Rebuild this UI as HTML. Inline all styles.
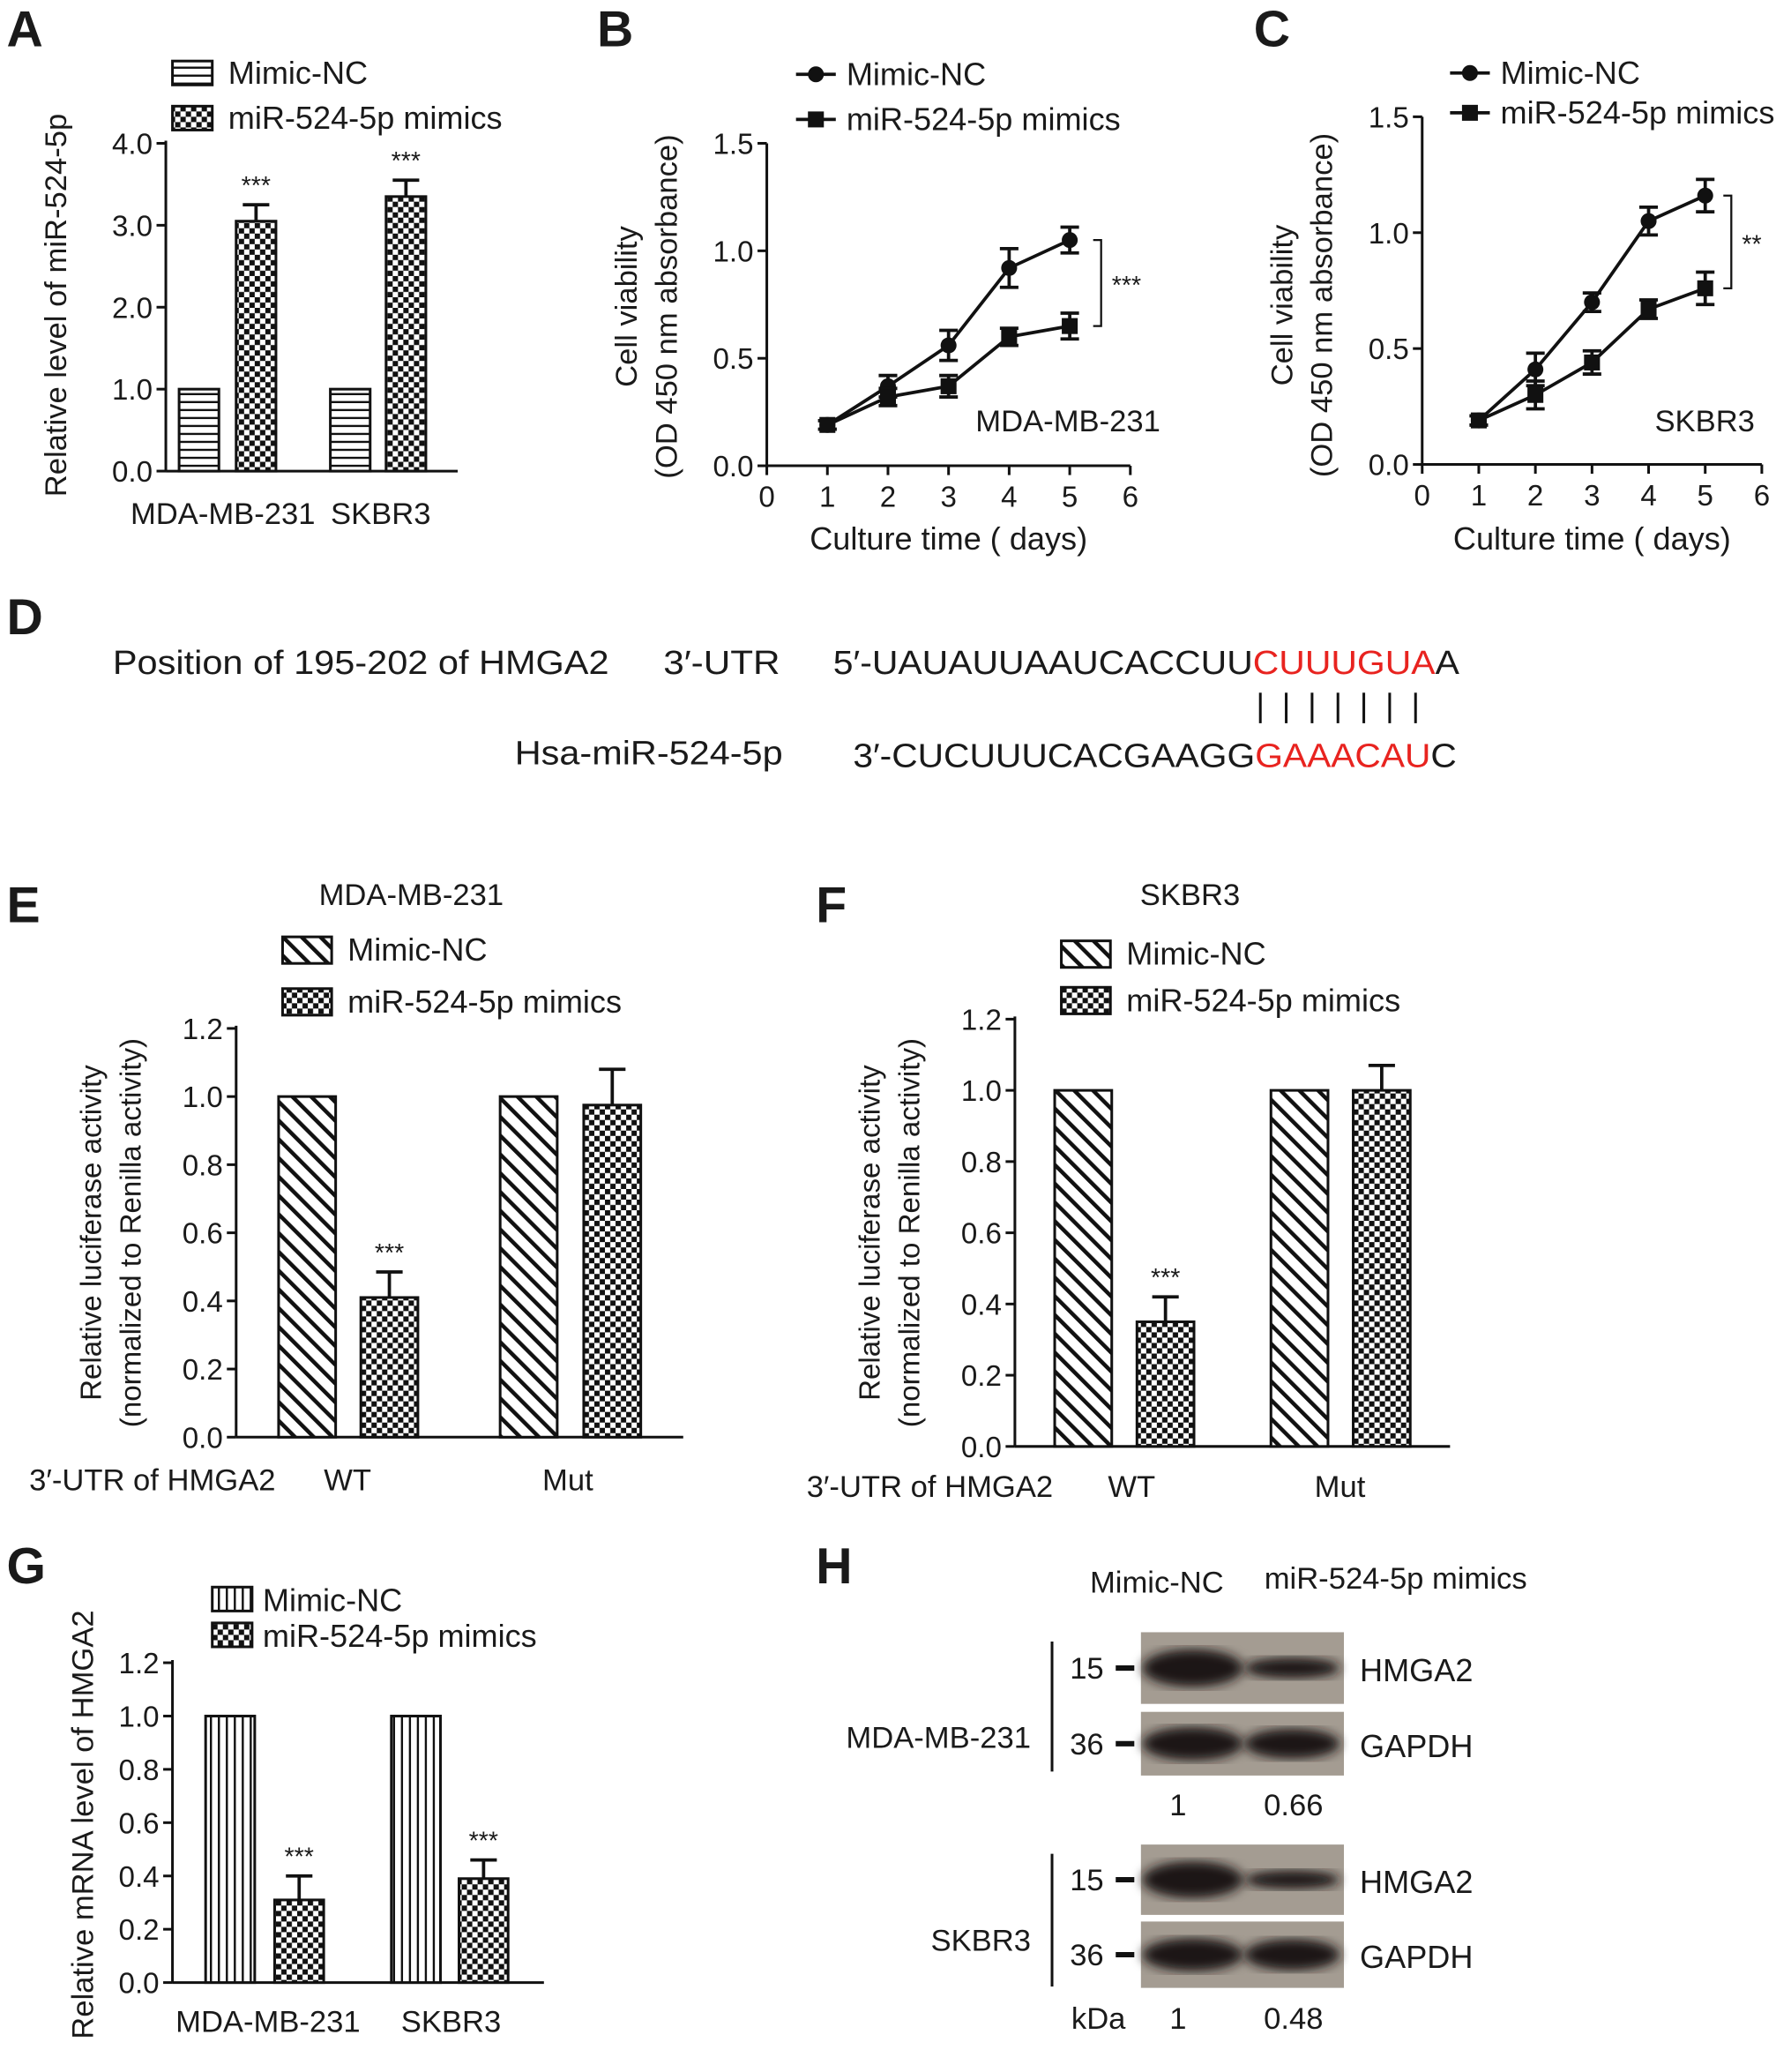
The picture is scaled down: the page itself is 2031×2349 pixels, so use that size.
<!DOCTYPE html>
<html><head><meta charset="utf-8"><style>
html,body{margin:0;padding:0;background:#fff}
svg{display:block}
text{font-family:"Liberation Sans",Arial,sans-serif;fill:#1a1a1a}
</style></head><body>
<svg id="fig" xmlns="http://www.w3.org/2000/svg" width="2031" height="2349" viewBox="0 0 1350 1561.4" preserveAspectRatio="none">
<defs>
<pattern id="pH" width="6" height="6" patternUnits="userSpaceOnUse"><rect width="6" height="6" fill="#fff"/><line x1="0" y1="3" x2="6" y2="3" stroke="#111" stroke-width="1.6"/></pattern>
<pattern id="pV" width="6" height="6" patternUnits="userSpaceOnUse"><rect width="6" height="6" fill="#fff"/><line x1="3" y1="0" x2="3" y2="6" stroke="#111" stroke-width="1.6"/></pattern>
<pattern id="pC" width="8" height="8" patternUnits="userSpaceOnUse"><rect width="8" height="8" fill="#fff"/><rect width="4" height="4" fill="#111"/><rect x="4" y="4" width="4" height="4" fill="#111"/></pattern>
<pattern id="pD" width="10" height="10" patternUnits="userSpaceOnUse" patternTransform="rotate(-45)"><rect width="10" height="10" fill="#fff"/><rect width="3" height="10" fill="#111"/></pattern>
<filter id="blur"><feGaussianBlur stdDeviation="4"/></filter>
</defs>
<g id="root"></g>
</svg>
<script>
// Panel A data
const aGroups=["MDA-MB-231","SKBR3"];
const aNC=[1.0,1.0];
const aMim=[3.05,3.35];
const aMimErr=[0.2,0.2];
const aTicks=["0.0","1.0","2.0","3.0","4.0"];
// Panel B data
const days=[1,2,3,4,5];
const bNC=[0.19,0.37,0.56,0.92,1.05];
const bNCErr=[0.02,0.05,0.07,0.09,0.06];
const bMim=[0.19,0.32,0.37,0.60,0.65];
const bMimErr=[0.02,0.04,0.05,0.04,0.06];
// Panel C data
const cNC=[0.19,0.41,0.70,1.05,1.16];
const cNCErr=[0.02,0.07,0.04,0.06,0.07];
const cMim=[0.19,0.30,0.44,0.67,0.76];
const cMimErr=[0.02,0.06,0.05,0.04,0.07];
const lineXTicks=["0","1","2","3","4","5","6"];
const lineYTicks=["0.0","0.5","1.0","1.5"];
// Panel E data
const eGroups=["WT","Mut"];
const eNC=[1.0,1.0];
const eMim=[0.41,0.975];
const eMimErr=[0.075,0.105];
// Panel F data
const fNC=[1.0,1.0];
const fMim=[0.35,1.0];
const fMimErr=[0.07,0.07];
const lucTicks=["0.0","0.2","0.4","0.6","0.8","1.0","1.2"];
// Panel G data
const gNC=[1.0,1.0];
const gMim=[0.31,0.39];
const gMimErr=[0.09,0.07];
// Panel H values
const hVals=[["1","0.66"],["1","0.48"]];

const NS="http://www.w3.org/2000/svg";
const root=document.getElementById('root');
function el(tag,attrs,parent,txt){const e=document.createElementNS(NS,tag);for(const k in attrs)e.setAttribute(k,attrs[k]);if(txt!==undefined)e.textContent=txt;(parent||root).appendChild(e);return e;}
function T(x,y,s,size,anchor,parent,extra){const a={x:x,y:y,'font-size':size||24,'text-anchor':anchor||'start'};if(extra)for(const k in extra)a[k]=extra[k];const t=el('text',a,parent,s);return t;}
function grp(name){const g=el('g',{},root);return g;}

// panel letters
[["A",5,35],["B",450,35],["C",945,35],["D",5,478],["E",5,695],["F",615,695],["G",5,1193],["H",615,1193]].forEach(p=>{
 const t=T(p[1],p[2],p[0],38,'start',root,{'font-weight':'bold'});
 
 
});

function barChart(o){
 const g=grp(o.name);
 const ys=v=>o.y0-(o.y0-o.yTop)*v/o.yMax;
 el('line',{x1:o.ax,y1:o.y0,x2:o.ax,y2:o.yTop-2,stroke:'#111','stroke-width':2},g);
 el('line',{x1:o.ax,y1:o.y0,x2:o.axEnd,y2:o.y0,stroke:'#111','stroke-width':2},g);
 o.ticks.forEach((t,i)=>{const v=parseFloat(t);const y=ys(v);
  el('line',{x1:o.ax-7,y1:y,x2:o.ax,y2:y,stroke:'#111','stroke-width':2},g);
  const tt=T(o.ax-10,y+8,t,o.tickSize||22,'end',g);
  
  
 });
 o.nc.forEach((v,i)=>{const x=o.ncX[i];
  const r=el('rect',{x:x,y:ys(v),width:o.bw,height:o.y0-ys(v),fill:'url(#'+o.ncPat+')',stroke:'#111','stroke-width':2},g);
  
  
 });
 o.mim.forEach((v,i)=>{const x=o.mimX[i];const top=ys(v);const et=ys(v+o.err[i]);const cx=x+o.bw/2;
  el('line',{x1:cx,y1:top,x2:cx,y2:et,stroke:'#111','stroke-width':2.5},g);
  el('line',{x1:cx-10,y1:et,x2:cx+10,y2:et,stroke:'#111','stroke-width':2.5},g);
  const r=el('rect',{x:x,y:top,width:o.bw,height:o.y0-top,fill:'url(#pC)',stroke:'#111','stroke-width':2},g);
  
  
  if(o.stars[i]){const s=T(cx,et-8,o.stars[i],19,'middle',g);
   
   }
 });
 return g;
}

// ---------- Panel A
(function(){
 const g=barChart({name:'panel-a-chart',ax:125,axEnd:345,y0:355,yTop:108,yMax:4,ticks:aTicks,nc:aNC,mim:aMim,err:aMimErr,ncX:[135,249],mimX:[178,291],bw:30,ncPat:'pH',stars:['***','***']});
 aGroups.forEach((s,i)=>{const t=T([168,287][i],395,s,23,'middle',g);
  
  });
 const yt=T(0,0,'Relative level of miR-524-5p',23,'middle',g,{transform:'translate(50,230) rotate(-90)'});
 
 
 const l=grp('legend-a');
 el('rect',{x:130,y:46,width:30,height:18,fill:'url(#pH)',stroke:'#111','stroke-width':2},l);
 T(172,63,'Mimic-NC',24,'start',l);
 el('rect',{x:130,y:80,width:30,height:18,fill:'url(#pC)',stroke:'#111','stroke-width':2},l);
 T(172,97,'miR-524-5p mimics',24,'start',l);
})();

function lineChart(o){
 const g=grp(o.name);
 const xs=d=>o.x0+(o.x6-o.x0)*d/6;
 const ys=v=>o.y0-(o.y0-o.yTop)*v/1.5;
 el('line',{x1:o.x0,y1:o.y0,x2:o.x0,y2:o.yTop,stroke:'#111','stroke-width':2},g);
 el('line',{x1:o.x0,y1:o.y0,x2:o.x6,y2:o.y0,stroke:'#111','stroke-width':2},g);
 lineXTicks.forEach(t=>{const x=xs(+t);
  el('line',{x1:x,y1:o.y0,x2:x,y2:o.y0+7,stroke:'#111','stroke-width':2},g);
  const tt=T(x,o.y0+31,t,22,'middle',g);
  
  });
 lineYTicks.forEach(t=>{const y=ys(+t);
  el('line',{x1:o.x0-7,y1:y,x2:o.x0,y2:y,stroke:'#111','stroke-width':2},g);
  const tt=T(o.x0-10,y+8,t,22,'end',g);
  
  });
 [[o.nc,o.ncErr,'circle','series-mimic-nc'],[o.mim,o.mimErr,'square','series-mimics']].forEach(s=>{
  const pts=days.map((d,i)=>xs(d)+','+ys(s[0][i])).join(' ');
  const pl=el('polyline',{points:pts,fill:'none',stroke:'#111','stroke-width':2.5},g);
  
  
  days.forEach((d,i)=>{const x=xs(d),y=ys(s[0][i]),e1=ys(s[0][i]+s[1][i]),e2=ys(s[0][i]-s[1][i]);
   el('line',{x1:x,y1:e1,x2:x,y2:e2,stroke:'#111','stroke-width':2.5},g);
   el('line',{x1:x-7,y1:e1,x2:x+7,y2:e1,stroke:'#111','stroke-width':2.5},g);
   el('line',{x1:x-7,y1:e2,x2:x+7,y2:e2,stroke:'#111','stroke-width':2.5},g);
   let m;
   if(s[2]==='circle')m=el('circle',{cx:x,cy:y,r:6,fill:'#111'},g);
   else m=el('rect',{x:x-6,y:y-6,width:12,height:12,fill:'#111'},g);
   
   
  });
 });
 const yA=ys(o.nc[4]),yB=ys(o.mim[4]);
 el('polyline',{points:(o.bx-6)+','+yA+' '+o.bx+','+yA+' '+o.bx+','+yB+' '+(o.bx-6)+','+yB,fill:'none',stroke:'#111','stroke-width':1.5},g);
 const st=T(o.bx+8,(yA+yB)/2+8,o.stars,19,'start',g);
 
 
 const cl=T(o.cellX,325,o.cell,23,'middle',g);
 
 
 const xt=T((o.x0+o.x6)/2,414,'Culture time ( days)',24,'middle',g);
 
 
 const y1=T(0,0,'Cell viability',23,'middle',g,{transform:'translate('+(o.x0-98)+','+(o.y0-120)+') rotate(-90)'});
 
 
 T(0,0,'(OD 450 nm absorbance)',23,'middle',g,{transform:'translate('+(o.x0-68)+','+(o.y0-120)+') rotate(-90)'});
 const l=grp('legend-'+o.name);
 el('line',{x1:o.lx,y1:o.ly1,x2:o.lx+30,y2:o.ly1,stroke:'#111','stroke-width':2.5},l);
 el('circle',{cx:o.lx+15,cy:o.ly1,r:6,fill:'#111'},l);
 T(o.lx+38,o.ly1+8,'Mimic-NC',24,'start',l);
 el('line',{x1:o.lx,y1:o.ly2,x2:o.lx+30,y2:o.ly2,stroke:'#111','stroke-width':2.5},l);
 el('rect',{x:o.lx+9,y:o.ly2-6,width:12,height:12,fill:'#111'},l);
 T(o.lx+38,o.ly2+8,'miR-524-5p mimics',24,'start',l);
}
lineChart({name:'panel-b-chart',x0:578,x6:852,y0:351,yTop:108,nc:bNC,ncErr:bNCErr,mim:bMim,mimErr:bMimErr,bx:830,stars:'***',cell:'MDA-MB-231',cellX:805,lx:600,ly1:56,ly2:90});
lineChart({name:'panel-c-chart',x0:1072,x6:1328,y0:350,yTop:88,nc:cNC,ncErr:cNCErr,mim:cMim,mimErr:cMimErr,bx:1305,stars:'**',cell:'SKBR3',cellX:1285,lx:1093,ly1:55,ly2:85});

// ---------- Panel D
(function(){
 const g=grp('panel-d-sequence');
 T(85,508,'Position of 195-202 of HMGA2',25,'start',g,{textLength:374,lengthAdjust:'spacingAndGlyphs'});
 T(500,508,'3′-UTR',25,'start',g,{textLength:88,lengthAdjust:'spacingAndGlyphs'});
 const t1=T(628,508,'',25,'start',g,{textLength:472,lengthAdjust:'spacingAndGlyphs'});
 el('tspan',{},t1,'5′-UAUAUUAAUCACCUU');el('tspan',{style:'fill:#e8231f'},t1,'CUUUGUA');el('tspan',{},t1,'A');
 for(let i=0;i<7;i++)el('line',{x1:950+i*19.5,y1:522,x2:950+i*19.5,y2:545,stroke:'#111','stroke-width':2},g);
 T(388,576,'Hsa-miR-524-5p',25,'start',g,{textLength:202,lengthAdjust:'spacingAndGlyphs'});
 const t2=T(643,578,'',25,'start',g,{textLength:455,lengthAdjust:'spacingAndGlyphs'});
 el('tspan',{},t2,'3′-CUCUUUCACGAAGG');el('tspan',{style:'fill:#e8231f'},t2,'GAAACAU');el('tspan',{},t2,'C');
})();

// ---------- Panel E / F
function lucPanel(o){
 const g=barChart({name:o.name,ax:o.ax,axEnd:o.axEnd,y0:o.y0,yTop:o.yTop,yMax:1.2,ticks:lucTicks,nc:o.nc,mim:o.mim,err:o.err,ncX:o.ncX,mimX:o.mimX,bw:43,ncPat:'pD',stars:['***','']});
 const ti=T(o.titleX,682,o.title,23,'middle',g);
 
 
 T(o.utrX,o.lblY,'3′-UTR of HMGA2',23,'start',g);
 eGroups.forEach((s,i)=>{const t=T(o.gx[i],o.lblY,s,23,'middle',g);
  
  });
 const y1=T(0,0,'Relative luciferase activity',22,'middle',g,{transform:'translate('+(o.ax-102)+','+((o.y0+o.yTop)/2)+') rotate(-90)'});
 
 
 T(0,0,'(normalized to Renilla activity)',22,'middle',g,{transform:'translate('+(o.ax-72)+','+((o.y0+o.yTop)/2)+') rotate(-90)'});
 const l=grp('legend-'+o.name);
 el('rect',{x:o.lx,y:o.ly1-10,width:37,height:20,fill:'url(#pD)',stroke:'#111','stroke-width':2},l);
 T(o.lx+49,o.ly1+8,'Mimic-NC',24,'start',l);
 el('rect',{x:o.lx,y:o.ly2-10,width:37,height:20,fill:'url(#pC)',stroke:'#111','stroke-width':2},l);
 T(o.lx+49,o.ly2+8,'miR-524-5p mimics',24,'start',l);
}
lucPanel({name:'panel-e-chart',ax:178,axEnd:515,y0:1083,yTop:775,nc:eNC,mim:eMim,err:eMimErr,ncX:[210,377],mimX:[272,440],title:'MDA-MB-231',titleX:310,utrX:22,lblY:1123,gx:[262,428],lx:213,ly1:716,ly2:755});
lucPanel({name:'panel-f-chart',ax:765,axEnd:1093,y0:1090,yTop:768,nc:fNC,mim:fMim,err:fMimErr,ncX:[795,958],mimX:[857,1020],title:'SKBR3',titleX:897,utrX:608,lblY:1128,gx:[853,1010],lx:800,ly1:719,ly2:754});

// ---------- Panel G
(function(){
 const g=barChart({name:'panel-g-chart',ax:130,axEnd:410,y0:1494,yTop:1253,yMax:1.2,ticks:lucTicks,nc:gNC,mim:gMim,err:gMimErr,ncX:[155,295],mimX:[207,346],bw:37,ncPat:'pV',stars:['***','***']});
 aGroups.forEach((s,i)=>{const t=T([202,340][i],1531,s,23,'middle',g);
  
  });
 const yt=T(0,0,'Relative mRNA level of HMGA2',23,'middle',g,{transform:'translate(70,1375) rotate(-90)'});
 
 
 const l=grp('legend-g');
 el('rect',{x:160,y:1196,width:30,height:18,fill:'url(#pV)',stroke:'#111','stroke-width':2},l);
 T(198,1214,'Mimic-NC',24,'start',l);
 el('rect',{x:160,y:1223,width:30,height:18,fill:'url(#pC)',stroke:'#111','stroke-width':2},l);
 T(198,1241,'miR-524-5p mimics',24,'start',l);
})();

// ---------- Panel H
(function(){
 const g=grp('panel-h-western-blot');
 T(872,1200,'Mimic-NC',23,'middle',g);
 T(1052,1197,'miR-524-5p mimics',23,'middle',g);
 const rows=[[1230,1284,'HMGA2','15',[1.0,0.55]],[1290,1338,'GAPDH','36',[1.0,0.9]],[1390,1443,'HMGA2','15',[1.0,0.5]],[1448,1498,'GAPDH','36',[0.95,0.9]]];
 rows.forEach((r,i)=>{
  const b=el('rect',{x:860,y:r[0],width:153,height:r[1]-r[0],fill:'#a49c92'},g);
  
  
  const cy=(r[0]+r[1])/2;
  const h=(r[1]-r[0])*0.42;
  el('ellipse',{cx:899,cy:cy,rx:38,ry:h*r[4][0]/1.6,fill:'#1a1614',filter:'url(#blur)'},g);
  el('ellipse',{cx:974,cy:cy,rx:36,ry:h*r[4][1]/1.6,fill:'#1a1614',filter:'url(#blur)'},g);
  el('line',{x1:841,y1:cy,x2:855,y2:cy,stroke:'#111','stroke-width':4},g);
  T(832,cy+8,r[3],23,'end',g);
  T(1025,cy+10,r[2],24,'start',g);
 });
 el('line',{x1:793,y1:1237,x2:793,y2:1335,stroke:'#111','stroke-width':2},g);
 el('line',{x1:793,y1:1397,x2:793,y2:1497,stroke:'#111','stroke-width':2},g);
 T(777,1317,'MDA-MB-231',23,'end',g);
 T(777,1470,'SKBR3',23,'end',g);
 T(828,1529,'kDa',23,'middle',g);
 hVals.forEach((v,i)=>{const y=[1368,1529][i];
  T(888,y,v[0],23,'middle',g);T(975,y,v[1],23,'middle',g);});
})();
</script>
</body></html>
